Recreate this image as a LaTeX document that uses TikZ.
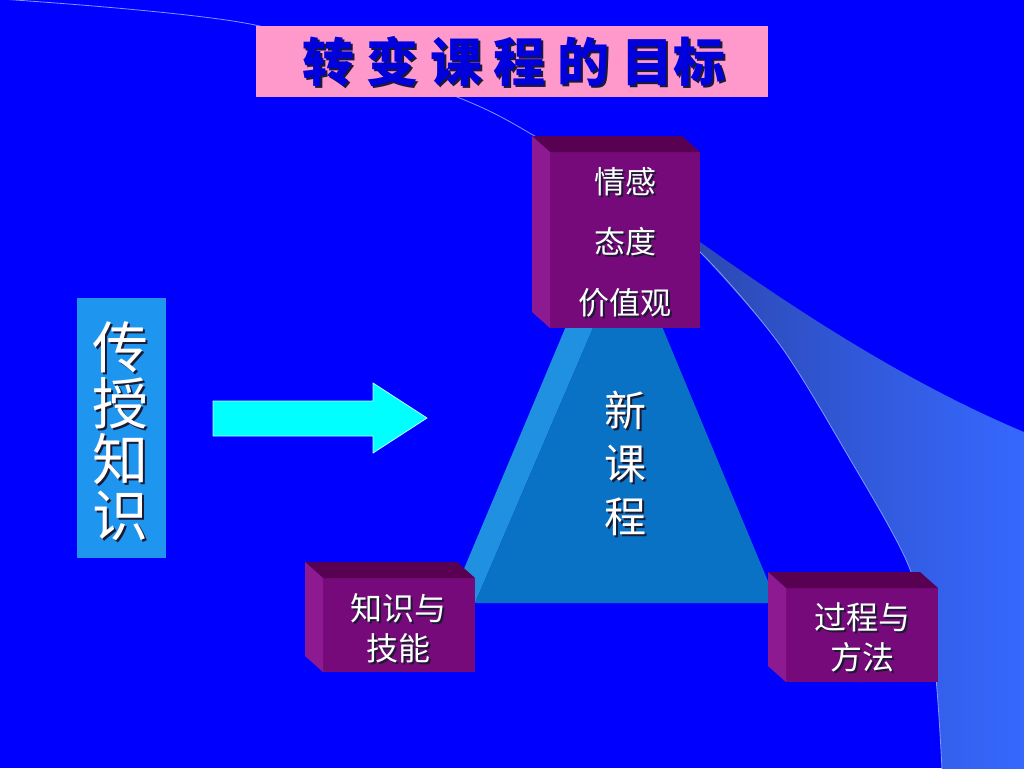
\documentclass[tikz,border=0pt]{standalone}
\usepackage{fontspec}
\newfontfamily\cjk{Noto Sans CJK SC}
\usetikzlibrary{calc}
\definecolor{bgblue}{HTML}{0000FF}
\definecolor{pinkc}{HTML}{FF99CC}
\definecolor{titleblue}{HTML}{0000DD}
\definecolor{frontc}{HTML}{770A7A}
\definecolor{topc}{HTML}{580052}
\definecolor{sidec}{HTML}{8E1A92}
\definecolor{leftboxc}{HTML}{1E96F0}
\definecolor{pyrfront}{HTML}{0A72C4}
\definecolor{pyrleft}{HTML}{2090E0}
\definecolor{swA}{HTML}{2C47AE}
\definecolor{swB}{HTML}{3668FF}
\definecolor{linec}{HTML}{7D98FF}
\definecolor{shadowc}{HTML}{1A1A33}
\definecolor{arrowc}{HTML}{00FFFF}
\newcommand\shtext[5]{%
  \node[#4, text=shadowc] at ($#2+(#3,#3)$) {#5};
  \node[#4] (#1) at #2 {#5};
}
\newcommand\cubebox[5]{%
  \node[frontface, minimum width=#4pt, minimum height=#5pt, anchor=north west] (#1) at (#2,#3) {};
  \fill[topc] (#1.north west) -- ++(-18,-16) -- ($(#1.north east)+(-18,-16)$) -- (#1.north east) -- cycle;
  \fill[sidec] (#1.north west) -- ++(-18,-16) -- ($(#1.south west)+(-18,-16)$) -- (#1.south west) -- cycle;
}
\tikzset{
  frontface/.style={fill=frontc, draw=none, inner sep=0pt, outer sep=0pt},
  boxtxt/.style={text=white, align=center, inner sep=0pt},
}
\begin{document}
\begin{tikzpicture}[x=1pt,y=-1pt]
\fill[bgblue] (0,0) rectangle (1024,768);
\useasboundingbox (0,0) rectangle (1024,768);
% swoosh
\shade[left color=swA, right color=swB]
  plot[smooth] coordinates {(942,770) (933,653) (907,562) (847,454) (780,345) (700,252) (675,224)}
  .. controls (780,300) and (900,380) .. (1024,432) -- (1024,770) -- cycle;
\draw[linec, line width=0.8pt] plot[smooth] coordinates {(0,-1) (255,25) (457,97) (533,135) (620,190) (700,252) (780,345) (847,454) (907,562) (933,653) (942,770)};
% title
\node[fill=pinkc, minimum width=512pt, minimum height=71pt, anchor=north west, inner sep=0pt] (titlebox) at (256,26) {};
\shtext{title}{(514,62)}{2}{text=titleblue, inner sep=0pt, font=\cjk\bfseries\fontsize{52}{52}\selectfont}{转 变 课 程 的 目标}
% pyramid
\fill[pyrleft] (577,300) -- (453,595) -- (475,603) -- (605,300) -- cycle;
\fill[pyrfront] (605,300) -- (475,603) -- (777,603) -- (651,300) -- cycle;
% cubes
\cubebox{topcube}{550}{152}{150}{176}
\cubebox{leftcube}{323}{578}{152}{94}
\cubebox{rightcube}{786}{588}{152}{94}
% texts
\shtext{toptxt}{(625,242)}{2}{boxtxt, font=\cjk\fontsize{31}{60.5}\selectfont}{情感\\态度\\价值观}
\shtext{lefttxt}{(398,628)}{2}{boxtxt, font=\cjk\fontsize{32}{40}\selectfont}{知识与\\技能}
\shtext{righttxt}{(862,637)}{2}{boxtxt, font=\cjk\fontsize{32}{40}\selectfont}{过程与\\方法}
\shtext{newtxt}{(625,463)}{2}{boxtxt, font=\cjk\fontsize{42}{53}\selectfont}{新\\课\\程}
% left box
\node[fill=leftboxc, minimum width=89pt, minimum height=260pt, anchor=north west, inner sep=0pt] (oldbox) at (77,298) {};
\shtext{oldtxt}{(120,431)}{2}{boxtxt, font=\cjk\fontsize{56}{56}\selectfont}{传\\授\\知\\识}
% arrow
\fill[arrowc, draw=white!70!arrowc, line width=0.8pt] (213,401) -- (373,401) -- (373,383) -- (427,418) -- (373,453) -- (373,436) -- (213,436) -- cycle;
\end{tikzpicture}
\end{document}
